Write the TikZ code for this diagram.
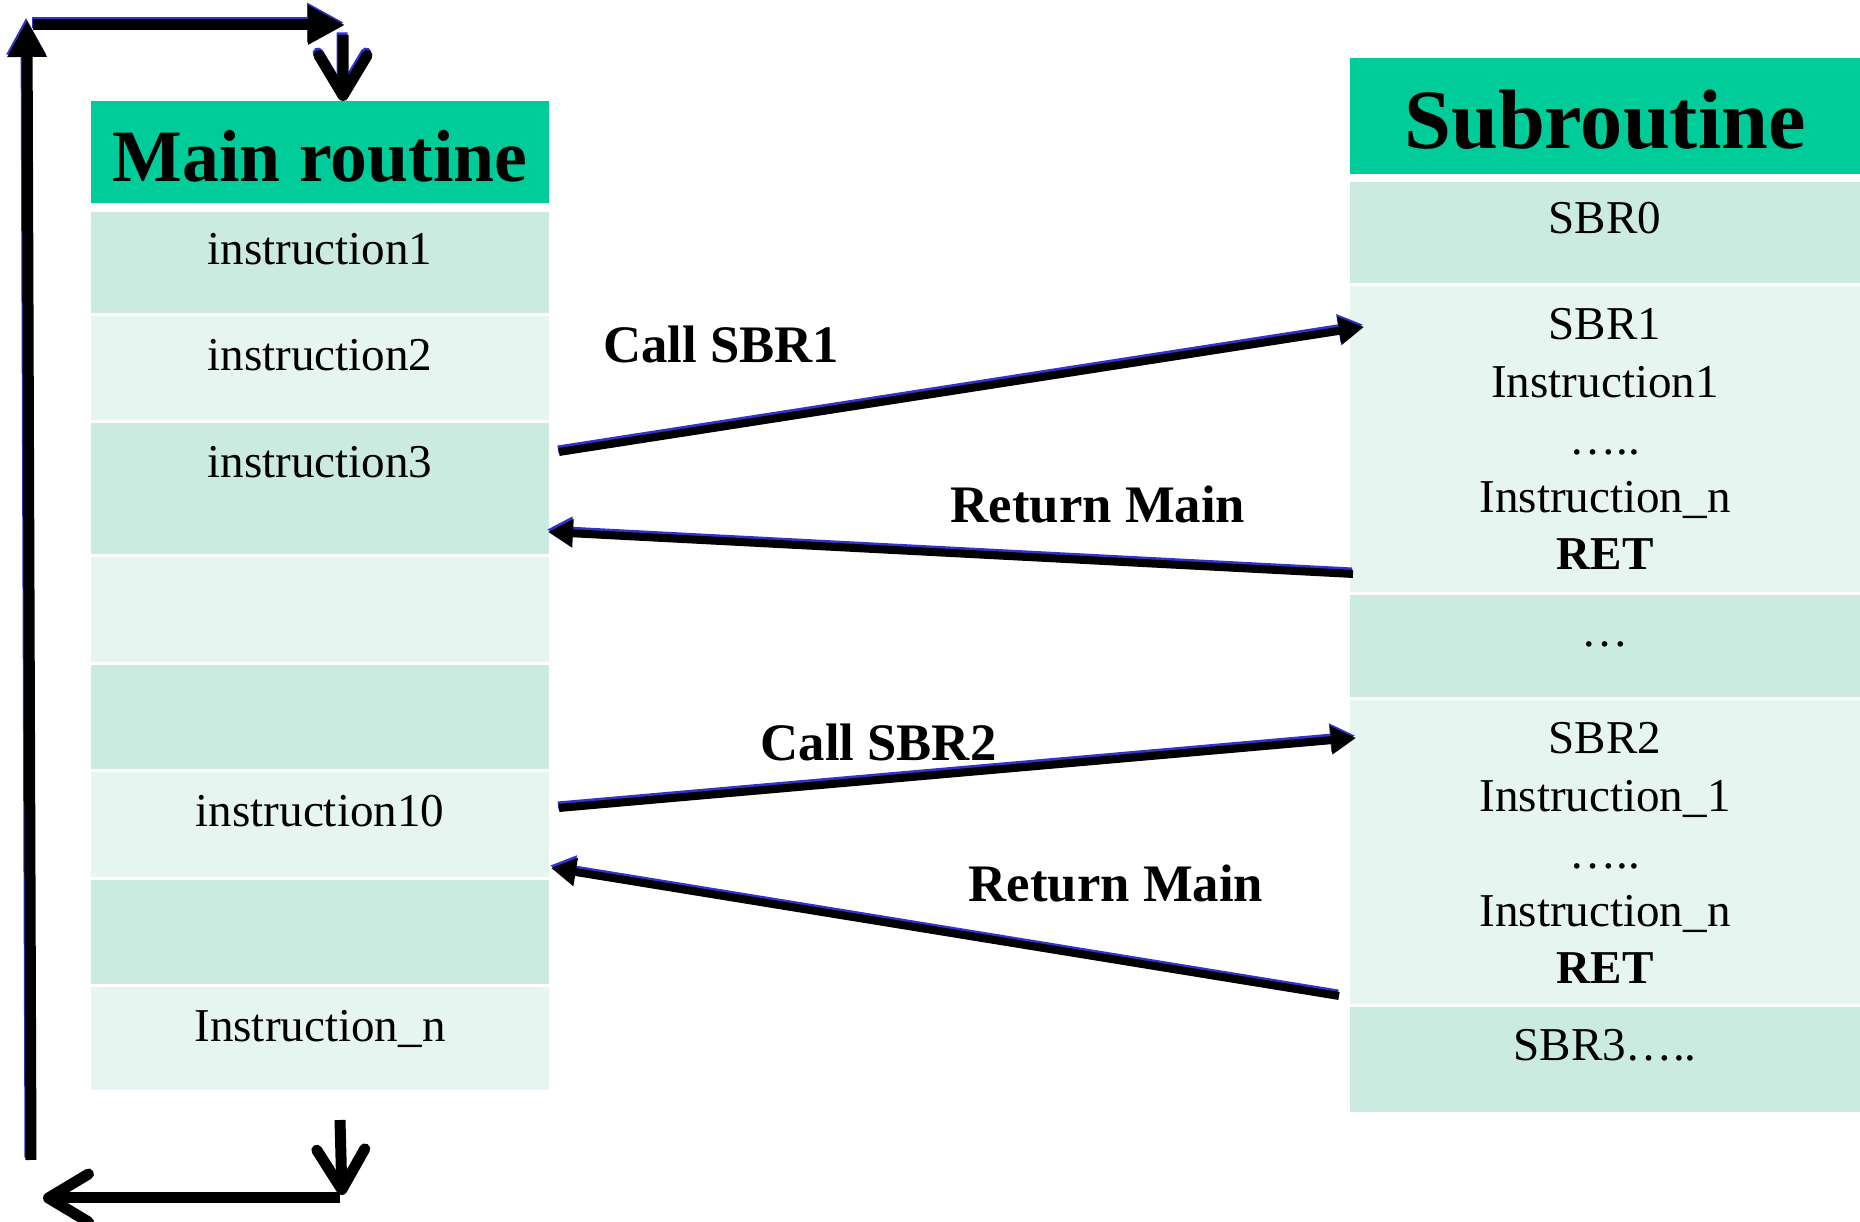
\documentclass[tikz,border=0pt]{standalone}
\usepackage{fontspec}
\setmainfont{Liberation Serif}
\usetikzlibrary{arrows.meta}
\usetikzlibrary{positioning}
\definecolor{headgreen}{RGB}{0,204,153}
\definecolor{rowdark}{RGB}{204,235,224}
\definecolor{rowlight}{RGB}{231,245,240}
\definecolor{edgeblue}{RGB}{51,51,204}
\tikzset{
	headstyle/.style={rectangle,fill=headgreen,inner sep=0pt,outer sep=0pt},
	darkrow/.style={rectangle,fill=rowdark,inner sep=0pt,outer sep=0pt},
	lightrow/.style={rectangle,fill=rowlight,inner sep=0pt,outer sep=0pt},
	maincol/.style={minimum width=4.58cm},
	subcol/.style={minimum width=5.10cm},
	celltext/.style={anchor=base,inner sep=0pt,align=center,font=\fontsize{13.4}{16.4}\selectfont},
	calltext/.style={anchor=base,inner sep=0pt,font=\fontsize{15}{18}\selectfont\bfseries},
	bluerim/.style={preaction={draw=edgeblue,line width=#1,transform canvas={yshift=0.025cm,xshift=-0.01cm}}},
	callarrow/.style={line width=0.08cm,-{Triangle[length=0.25cm,width=0.27cm]},bluerim=0.08cm},
	looparrow/.style={line width=0.11cm,-{Triangle[length=0.37cm,width=0.37cm]}},
	barbarrow/.style={line width=0.11cm,-{Straight Barb[length=0.4cm,width=0.48cm,round]}}
}
\begin{document}
\begin{tikzpicture}[node distance=0.03cm]
		\useasboundingbox (0,0) rectangle (18.6,12.22);
		% main routine column
		\node[headstyle,maincol,minimum height=1.02cm,anchor=north west] (mhead) at (0.91,11.21) {};
		\node[darkrow,maincol,minimum height=1.01cm,below=0.09cm of mhead] (m1) {};
		\node[lightrow,maincol,minimum height=1.04cm,below=of m1] (m2) {};
		\node[darkrow,maincol,minimum height=1.31cm,below=of m2] (m3) {};
		\node[lightrow,maincol,minimum height=1.05cm,below=of m3] (m4) {};
		\node[darkrow,maincol,minimum height=1.04cm,below=of m4] (m5) {};
		\node[lightrow,maincol,minimum height=1.05cm,below=of m5] (m6) {};
		\node[darkrow,maincol,minimum height=1.04cm,below=of m6] (m7) {};
		\node[lightrow,maincol,minimum height=1.03cm,below=of m7] (m8) {};
		\node[anchor=base,inner sep=0pt,font=\fontsize{21}{25}\selectfont\bfseries] (mtitle) at (3.20,10.40) {Main routine};
		\node[celltext] (mt1) at ([yshift=-0.53cm]m1.north) {instruction1};
		\node[celltext] (mt2) at ([yshift=-0.55cm]m2.north) {instruction2};
		\node[celltext] (mt3) at ([yshift=-0.55cm]m3.north) {instruction3};
		\node[celltext] (mt6) at ([yshift=-0.55cm]m6.north) {instruction10};
		\node[celltext] (mt8) at ([yshift=-0.55cm]m8.north) {Instruction\_n};
		% subroutine column
		\node[headstyle,subcol,minimum height=1.16cm,anchor=north west] (shead) at (13.50,11.64) {};
		\node[darkrow,subcol,minimum height=1.01cm,below=0.08cm of shead] (s1) {};
		\node[lightrow,subcol,minimum height=3.06cm,below=of s1] (s2) {};
		\node[darkrow,subcol,minimum height=1.02cm,below=of s2] (s3) {};
		\node[lightrow,subcol,minimum height=3.04cm,below=of s3] (s4) {};
		\node[darkrow,subcol,minimum height=1.05cm,below=of s4] (s5) {};
		\node[anchor=base,inner sep=0pt,font=\fontsize{24}{28}\selectfont\bfseries] (stitle) at (16.05,10.73) {Subroutine};
		\node[celltext] (st1) at ([yshift=-0.52cm]s1.north) {SBR0};
		% last line sits on the base anchor
		\node[celltext] (st2) at ([yshift=-2.84cm]s2.north) {SBR1\\Instruction1\\….. \\Instruction\_n\\\textbf{RET}};
		\node[celltext] (st3) at ([yshift=-0.52cm]s3.north) {…};
		\node[celltext] (st4) at ([yshift=-2.84cm]s4.north) {SBR2\\Instruction\_1\\….. \\Instruction\_n\\\textbf{RET}};
		\node[celltext] (st5) at ([yshift=-0.54cm]s5.north) {SBR3…..};
		% calls and returns
		\draw[callarrow] ([shift={(0.10,0.365)}]m3.east) -- ([shift={(0.14,-0.41)}]s2.north west);
		\draw[callarrow] ([shift={(0.03,0.18)}]s2.south west) -- ([shift={(-0.01,-0.435)}]m3.east);
		\draw[callarrow] ([shift={(0.10,0.165)}]m6.east) -- ([shift={(0.06,-0.38)}]s4.north west);
		\draw[callarrow] ([shift={(-0.11,0.08)}]s4.south west) -- ([shift={(0.02,-0.435)}]m6.east);
		\node[calltext] (call1) at (7.21,8.59) {Call SBR1};
		\node[calltext] (ret1) at (10.98,6.99) {Return Main};
		\node[calltext] (call2) at (8.785,4.615) {Call SBR2};
		\node[calltext] (ret2) at (11.16,3.20) {Return Main};
		% loop back round the main routine
		\coordinate (loopbot) at (0.31,0.62);
		\coordinate (looptop) at (0.27,12.02);
		\coordinate (topleft) at (0.33,11.97);
		\coordinate (topright) at (3.45,11.97);
		\coordinate (downtop) at (3.43,11.87);
		\coordinate (downend) at (3.42,0.27);
		\coordinate (botright) at (3.40,0.24);
		\coordinate (botleft) at (0.43,0.24);
		\draw[looparrow,bluerim=0.11cm] (loopbot) -- (looptop);
		\draw[looparrow,bluerim=0.11cm] (topleft) -- (topright);
		\draw[barbarrow,bluerim=0.11cm] (downtop) -- ([xshift=0.23cm]mhead.north);
		\draw[barbarrow] ([shift={(0.20,-0.30)}]m8.south) -- (downend);
		\draw[barbarrow] (botright) -- (botleft);
\end{tikzpicture}
\end{document}
